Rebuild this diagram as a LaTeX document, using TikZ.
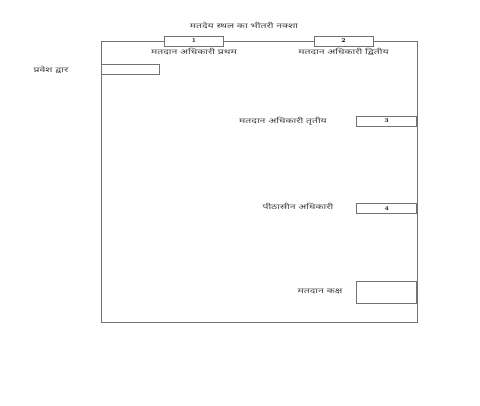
\documentclass[tikz,border=0pt]{standalone}
\usepackage{fontspec}
\newfontfamily\hindi[Script=Devanagari,FakeStretch=1.5]{Noto Sans}
\usetikzlibrary{positioning}

\begin{document}
\begin{tikzpicture}[x=1pt,y=-1pt,
  desk/.style={draw=black!55,fill=white,line width=0.7pt,minimum width=59pt,minimum height=10pt,inner sep=0pt,font=\bfseries\fontsize{6}{7}\selectfont},
  tag/.style={inner sep=0pt,text=black!75,font=\hindi\fontsize{7}{8}\selectfont}]
 \def\L{101}
 \def\R{417}
 \def\T{41}
 \def\B{322}

 \useasboundingbox (0,0) rectangle (480,405);

 %Room
 \draw[black!55,line width=0.7pt] (\L,\T) rectangle (\R,\B);
 \node(title)[tag] at (244,26) {मतदेय स्थल का भीतरी नक्शा};

 %Officers at the top
 \node(d1)[desk] at (194,\T) {1};
 \node(d2)[desk] at (343.5,\T) {2};
 \node(t1)[tag,below=2pt of d1] {मतदान अधिकारी प्रथम};
 \node(t2)[tag,below=2pt of d2] {मतदान अधिकारी द्वितीय};

 %Entry
 \node(door)[desk,anchor=west,minimum width=58pt] at (\L,69) {};
 \node(td)[tag] at (51,70) {प्रवेश द्वार};

 %Officers on the right side
 \node(d3)[desk,anchor=east,minimum width=60pt] at (\R,121) {3};
 \node(d4)[desk,anchor=east,minimum width=60pt] at (\R,208.5) {4};
 \node(booth)[desk,anchor=east,minimum width=60pt,minimum height=22pt] at (\R,292) {};
 \node(t3)[tag] at (283,121) {मतदान अधिकारी तृतीय};
 \node(t4)[tag] at (298,206) {पीठासीन अधिकारी};
 \node(t5)[tag] at (320,292) {मतदान कक्ष};

\end{tikzpicture}
\end{document}
